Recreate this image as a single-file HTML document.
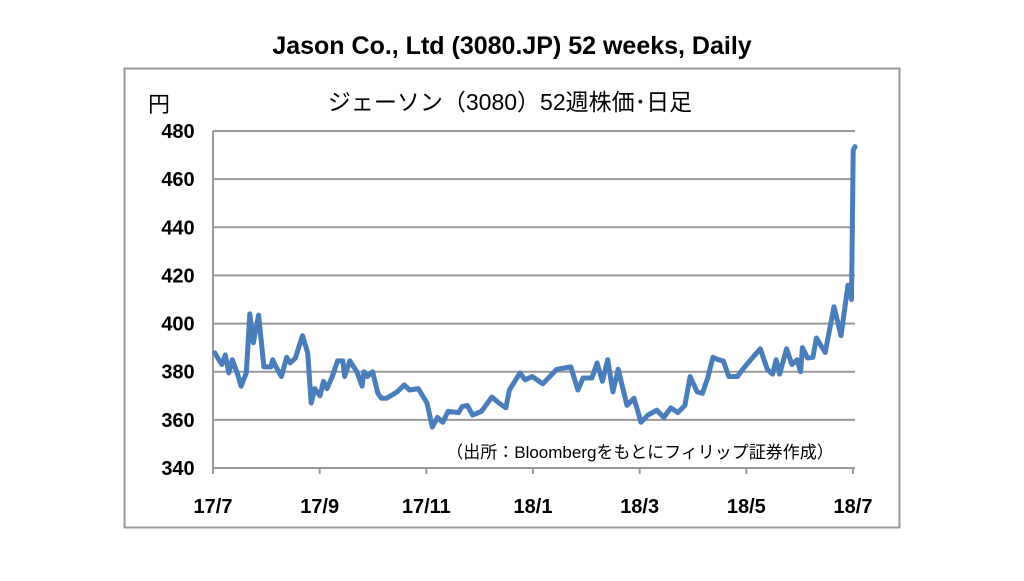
<!DOCTYPE html>
<html><head><meta charset="utf-8"><style>
body{margin:0;background:#fff;width:1024px;height:576px;overflow:hidden;font-family:"Liberation Sans","Noto Sans CJK JP",sans-serif}
</style></head><body>
<svg id="chart" width="1024" height="576" viewBox="0 0 1024 576" xmlns="http://www.w3.org/2000/svg">
<text x="512" y="54" text-anchor="middle" font-size="25" font-weight="bold" font-family="Liberation Sans, sans-serif">Jason Co., Ltd (3080.JP) 52 weeks, Daily</text>
<rect x="124.5" y="68.5" width="775" height="459" fill="none" stroke="#999" stroke-width="2"/>
<text x="510" y="110" text-anchor="middle" font-size="23" font-family="Liberation Sans, Noto Sans CJK JP, sans-serif">ジェーソン（3080）52週株価･日足</text>
<text x="148" y="112" font-size="22" font-family="Noto Sans CJK JP, sans-serif">円</text>
<g id="grid"></g><g id="yt"></g><g id="xt"></g>
<text x="640" y="458" text-anchor="middle" font-size="17" font-family="Liberation Sans, Noto Sans CJK JP, sans-serif">（出所：Bloombergをもとにフィリップ証券作成）</text>
<path id="line" fill="none" stroke="#4a7ebb" stroke-width="5" stroke-linejoin="round" stroke-linecap="round"/>
</svg>
<script>
const days=[1,5,7,9,11,14,16,19,21,23,26,29,33,34,36,39,42,44,47,51,54,56,58,61,63,65,68,71,74,75,78,82,85,86,88,91,94,96,99,105,109,112,117,122,125,128,131,134,140,142,145,148,153,159,163,167,169,175,178,182,188,196,204,208,211,216,219,222,225,228,231,236,240,244,248,253,257,261,265,269,272,276,279,282,285,288,291,294,299,302,306,312,316,319,321,323,327,330,333,335,336,339,342,344,349,354,358,362,364,365,366];
const prices=[387.8,383,387,379.5,385,379,374,379.5,404,392,403.5,382,382,385,382,378,386,383.6,385.7,395,387.8,367,373,370,376,373,378,384.5,384.5,378,384.5,380,374,380,378,380,371,369,369,371.6,374.5,372.4,373,367,357,361,359,363.5,363,365.5,366,362,363.5,369.5,367,365,372.4,379.5,376.6,378,375,381,382,372.4,377.4,377.4,383.6,376,385,371.6,381,366,369,359,362,364,361,365,363,366,378,371.6,371,377.4,386,385,384.5,378,378,381,384.5,389.5,381,379,385,379,389.5,383,385,380,390,385.7,386,394,388,407,395,416,410,472,473.5];
const yTicks=[340,360,380,400,420,440,460,480];
const xLabels=["17/7","17/9","17/11","18/1","18/3","18/5","18/7"];
const X0=213,X1=855,Y0=468,Y1=131;
const xs=d=>X0+d/366*(X1-X0);
const ys=v=>Y0-(v-340)/140*(Y0-Y1);
const NS="http://www.w3.org/2000/svg";
const grid=document.getElementById('grid'),yt=document.getElementById('yt'),xt=document.getElementById('xt');
yTicks.forEach(v=>{
 const l=document.createElementNS(NS,'line');
 
 
 l.setAttribute('x1',X0);l.setAttribute('x2',X1);l.setAttribute('y1',ys(v));l.setAttribute('y2',ys(v));
 l.setAttribute('stroke','#999');l.setAttribute('stroke-width','2');grid.appendChild(l);
 const t=document.createElementNS(NS,'text');
 
 
 t.setAttribute('x',178);t.setAttribute('y',ys(v)+7);t.setAttribute('text-anchor','middle');
 t.setAttribute('font-size','20');t.setAttribute('font-weight','bold');t.textContent=v;yt.appendChild(t);
});
const ax=document.createElementNS(NS,'line');


ax.setAttribute('x1',X0);ax.setAttribute('x2',X0);ax.setAttribute('y1',Y1);ax.setAttribute('y2',Y0);
ax.setAttribute('stroke','#999');ax.setAttribute('stroke-width','2');grid.appendChild(ax);
xLabels.forEach((s,i)=>{
 const x=X0+i*(853-X0)/6;
 const t=document.createElementNS(NS,'text');
 
 
 t.setAttribute('x',x);t.setAttribute('y',513);t.setAttribute('text-anchor','middle');
 t.setAttribute('font-size','20');t.setAttribute('font-weight','bold');t.textContent=s;xt.appendChild(t);
 const tk=document.createElementNS(NS,'line');
 
 
 tk.setAttribute('x1',x);tk.setAttribute('x2',x);tk.setAttribute('y1',Y0);tk.setAttribute('y2',Y0+6);
 tk.setAttribute('stroke','#999');tk.setAttribute('stroke-width','2');xt.appendChild(tk);
});
document.getElementById('line').setAttribute('d',days.map((d,i)=>(i?'L':'M')+xs(d).toFixed(1)+' '+ys(prices[i]).toFixed(1)).join(' '));
</script>
</body></html>
